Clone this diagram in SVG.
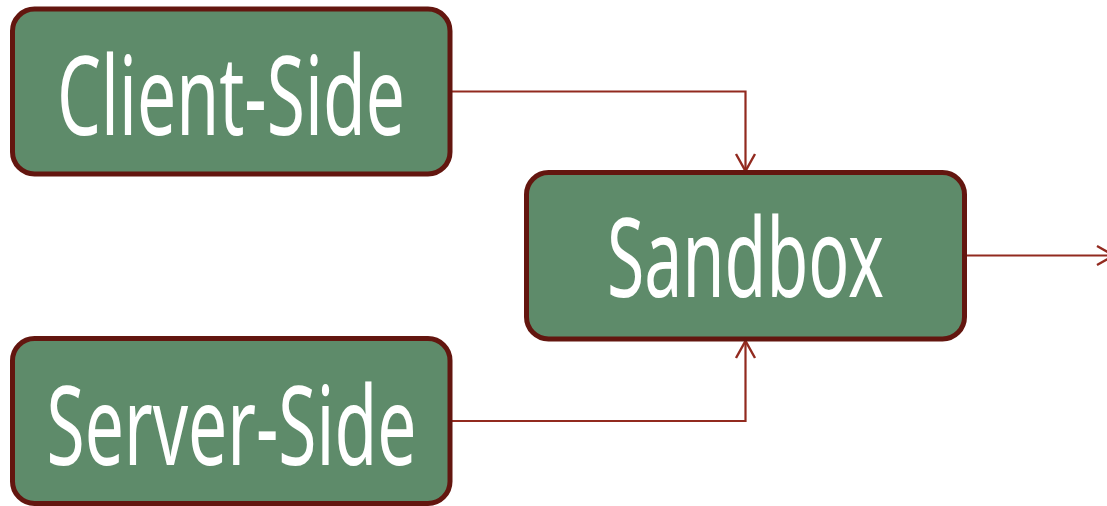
<svg xmlns="http://www.w3.org/2000/svg" width="1107" height="506" viewBox="0 0 1107 506">
  <style>
    .box { fill: #5e8b6a; stroke: #63160f; stroke-width: 5; }
    .label { fill: #ffffff; font-family: "Noto Sans", "Open Sans", sans-serif; font-size: 110px; text-anchor: middle; }
    .edge { fill: none; stroke: #922a1f; stroke-width: 2.2; marker-end: url(#arrow); }
  </style>
  <defs>
    <marker id="arrow" markerUnits="userSpaceOnUse" markerWidth="22" markerHeight="24" viewBox="0 0 22 24" refX="19" refY="12" orient="auto">
      <path d="M2,2.5 L19,12 L2,21.5" fill="none" stroke="#922a1f" stroke-width="2.4"/>
    </marker>
  </defs>

  <g id="connectors">
    <path class="edge" d="M450,91.5 H745.5 V171"/>
    <path class="edge" d="M450,421 H745.5 V341"/>
    <path class="edge" d="M964.5,255.5 H1114"/>
  </g>

  <g id="client-side">
    <rect class="box" x="12.5" y="9" width="437.5" height="165" rx="22"/>
    <text class="label" x="231" y="135" textLength="348" lengthAdjust="spacingAndGlyphs">Client-Side</text>
  </g>

  <g id="sandbox">
    <rect class="box" x="526.5" y="172.5" width="438" height="166.5" rx="22"/>
    <text class="label" x="745.5" y="297" textLength="277" lengthAdjust="spacingAndGlyphs">Sandbox</text>
  </g>

  <g id="server-side">
    <rect class="box" x="12.5" y="338.5" width="437.5" height="165" rx="22"/>
    <text class="label" x="231.5" y="465" textLength="370" lengthAdjust="spacingAndGlyphs">Server-Side</text>
  </g>
</svg>
